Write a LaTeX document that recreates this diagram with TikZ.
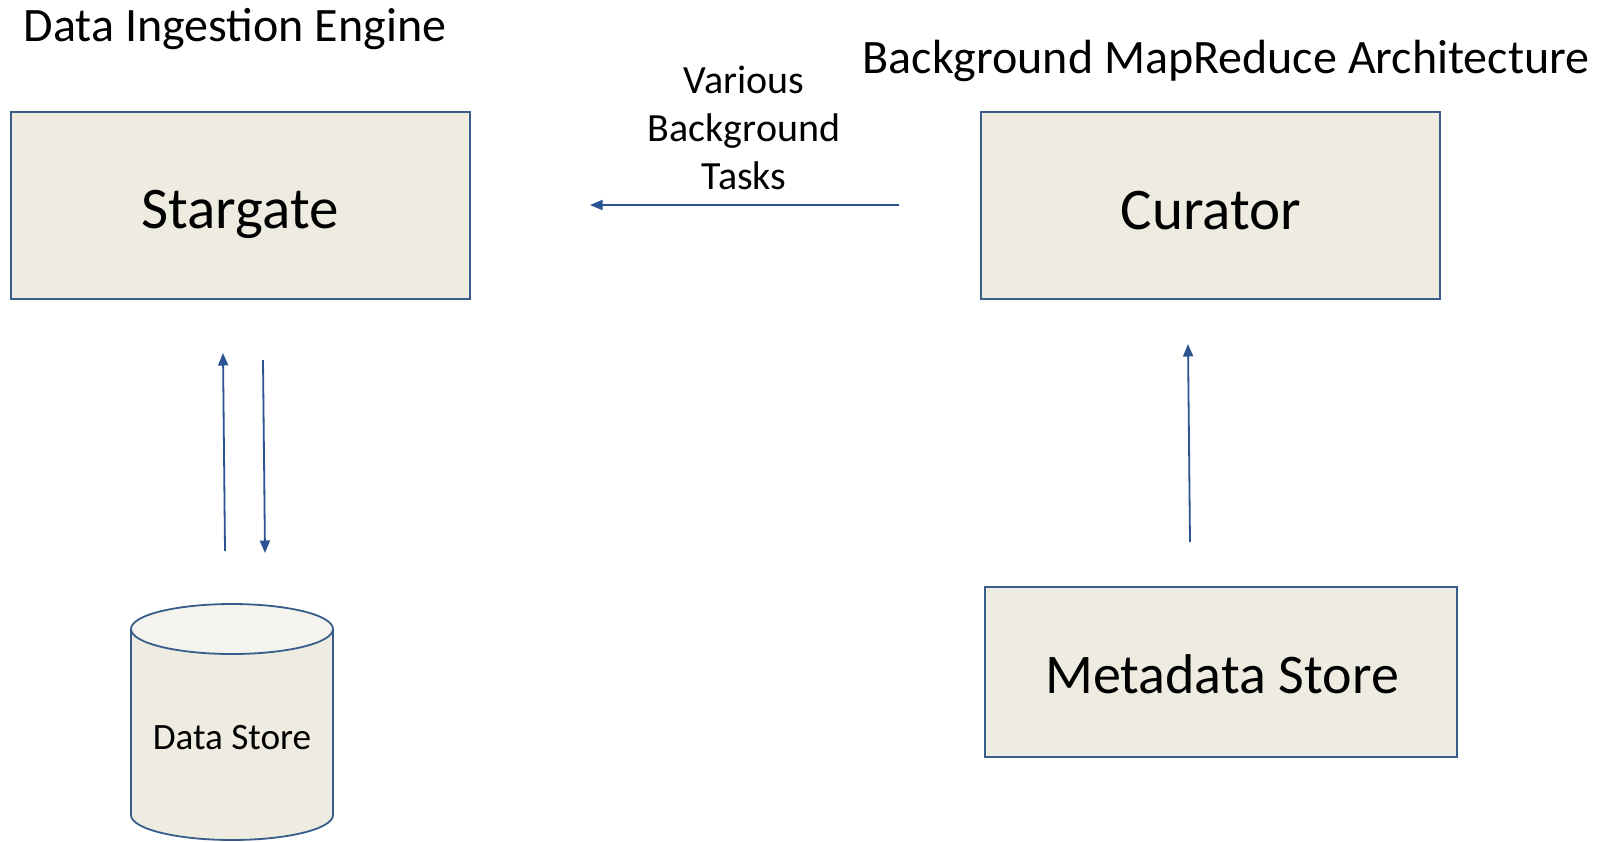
\documentclass[tikz,border=0pt]{standalone}
\usepackage{fontspec}
\setmainfont{Carlito}
\usetikzlibrary{arrows.meta}
\definecolor{boxfill}{HTML}{EEECE1}
\definecolor{topfill}{HTML}{F4F3EE}
\definecolor{boxline}{HTML}{385D8A}
\definecolor{arrowline}{HTML}{2B5291}
\begin{document}
\begin{tikzpicture}[x=1pt,y=-1pt,
  box/.style={draw=boxline,fill=boxfill,line width=1.8pt},
  big/.style={font=\fontsize{59}{63}\selectfont,anchor=base,inner sep=0pt},
  title/.style={font=\fontsize{48}{52}\selectfont,anchor=base,inner sep=0pt},
  conn/.style={draw=arrowline,line width=1.8pt,-{Triangle[length=12.5pt,width=10pt]}}]
\useasboundingbox (0,0) rectangle (1598,841);
% boxes
\draw[box] (11,112) rectangle (470,299);
\draw[box] (981,112) rectangle (1440,299);
\draw[box] (985,587) rectangle (1457,757);
\node[big] (stargate) at (240,228) {Stargate};
\node[big] (curator) at (1211,229) {Curator};
\node[big,font=\fontsize{56}{60}\selectfont] (meta) at (1222,693) {Metadata Store};
% titles
\node[title] (t1) at (235,41) {Data Ingestion Engine};
\node[title] (t2) at (1226,73) {Background MapReduce Architecture};
\node[font=\fontsize{40}{48}\selectfont,align=center,inner sep=0pt] (tasks) at (744,128) {Various\\Background\\Tasks};
% cylinder
\draw[box] (131,629) -- (131,815) arc[start angle=180,end angle=0,x radius=101,y radius=25] -- (333,629);
\draw[draw=boxline,fill=topfill,line width=1.8pt] (232,629) ellipse[x radius=101,y radius=25];
\node[font=\fontsize{37.2}{40}\selectfont,anchor=base,inner sep=0pt] (ds) at (232,749) {Data Store};
% connectors
\coordinate (h1) at (899,205);
\coordinate (h2) at (590,205);
\coordinate (u1) at (225,551);
\coordinate (u2) at (223,353);
\coordinate (d1) at (263,360);
\coordinate (d2) at (265,553);
\coordinate (c1) at (1190,542);
\coordinate (c2) at (1188,344);
\draw[conn] (h1) -- (h2);
\draw[conn] (u1) -- (u2);
\draw[conn] (d1) -- (d2);
\draw[conn] (c1) -- (c2);
\end{tikzpicture}
\end{document}
